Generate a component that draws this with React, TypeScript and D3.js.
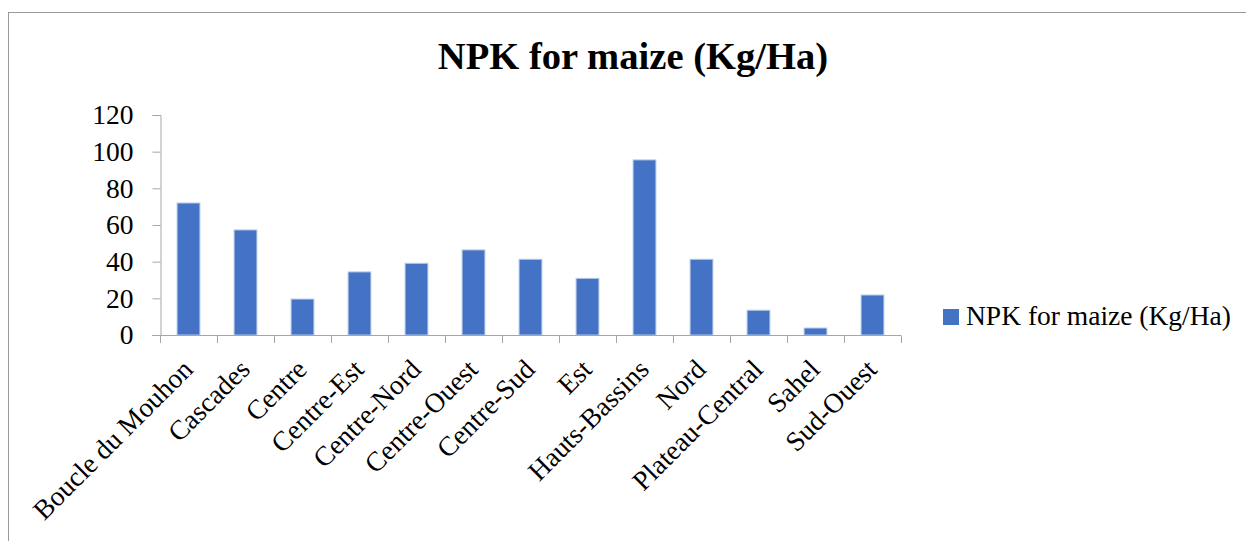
import React, { useEffect, useRef } from 'react';
import * as d3 from 'd3';

const regions = [
  'Boucle du Mouhon', 'Cascades', 'Centre', 'Centre-Est', 'Centre-Nord', 'Centre-Ouest',
  'Centre-Sud', 'Est', 'Hauts-Bassins', 'Nord', 'Plateau-Central', 'Sahel', 'Sud-Ouest',
];
const npkValues = [72, 57.3, 19.6, 34.4, 39.1, 46.4, 41.3, 30.9, 95.5, 41.3, 13.5, 3.8, 21.8];
const yTicks = [0, 20, 40, 60, 80, 100, 120];
const seriesName = 'NPK for maize (Kg/Ha)';
const chartTitle = 'NPK for maize (Kg/Ha)';

const App = () => {
  const svgRef = useRef(null);

  useEffect(() => {
    const font = 'Liberation Serif';
    const axisColor = '#a6a6a6';
    const svg = d3.select(svgRef.current);
    svg.selectAll('*').remove(); // Clear previous content

    // outer chart border
    svg.append('rect')
      .attr('x', 8.5).attr('y', 12.5)
      .attr('width', 1250).attr('height', 560)
      .attr('fill', 'white')
      .attr('stroke', '#9a9a9a');

    svg.append('text')
      .attr('x', 633).attr('y', 69)
      .attr('text-anchor', 'middle')
      .attr('font-family', font)
      .attr('font-weight', 'bold')
      .attr('font-size', 38.6)
      .text(chartTitle);

    const x = d3.scaleBand().domain(regions).range([160, 901]).paddingInner(0.6).paddingOuter(0.3);
    const y = d3.scaleLinear().domain([0, 120]).range([335, 115]);

    // bars
    svg.append('g')
      .selectAll('rect')
      .data(npkValues)
      .enter()
      .append('rect')
      .attr('x', (d, i) => x(regions[i]))
      .attr('y', (d) => y(d))
      .attr('width', x.bandwidth())
      .attr('height', (d) => y(0) - y(d))
      .attr('fill', '#4472C4')
      .attr('stroke', '#b4c7e7')
      .attr('stroke-width', 1);

    // y axis
    const yAxis = svg.append('g')
      .attr('transform', 'translate(160.5,0)')
      .call(d3.axisLeft(y).tickValues(yTicks).tickSize(8).tickPadding(19));
    yAxis.attr('font-family', font).attr('font-size', 27.5);
    yAxis.select('.domain').attr('stroke', axisColor);
    yAxis.selectAll('line').attr('stroke', axisColor);
    yAxis.selectAll('text').attr('fill', '#000');

    // x axis with ticks between categories
    const step = x.step();
    const edges = d3.range(regions.length + 1).map((i) => 160 + i * step);
    const xAxis = svg.append('g');
    xAxis.append('line')
      .attr('x1', 152).attr('x2', 901)
      .attr('y1', 335.5).attr('y2', 335.5)
      .attr('stroke', axisColor);
    xAxis.selectAll('.tick')
      .data(edges)
      .enter()
      .append('line')
      .attr('x1', (d) => Math.round(d) + 0.5)
      .attr('x2', (d) => Math.round(d) + 0.5)
      .attr('y1', 335.5).attr('y2', 343)
      .attr('stroke', axisColor);

    xAxis.selectAll('.label')
      .data(regions)
      .enter()
      .append('text')
      .attr('transform', (d) => `translate(${x(d) + x.bandwidth() / 2 + 6},371) rotate(-45)`)
      .attr('text-anchor', 'end')
      .attr('font-family', font)
      .attr('font-size', 27.5)
      .text((d) => d);

    // legend
    svg.append('rect')
      .attr('x', 943).attr('y', 309)
      .attr('width', 16).attr('height', 16)
      .attr('fill', '#4472C4');
    svg.append('text')
      .attr('x', 966).attr('y', 325)
      .attr('font-family', font)
      .attr('font-size', 27.5)
      .text(seriesName);
  }, []);

  return (
    <div style={{ position: 'absolute', left: 0, top: 0, width: 1246, height: 541, overflow: 'hidden' }}>
      <svg ref={svgRef} width={1246} height={541}></svg>
    </div>
  );
};

export default App;
